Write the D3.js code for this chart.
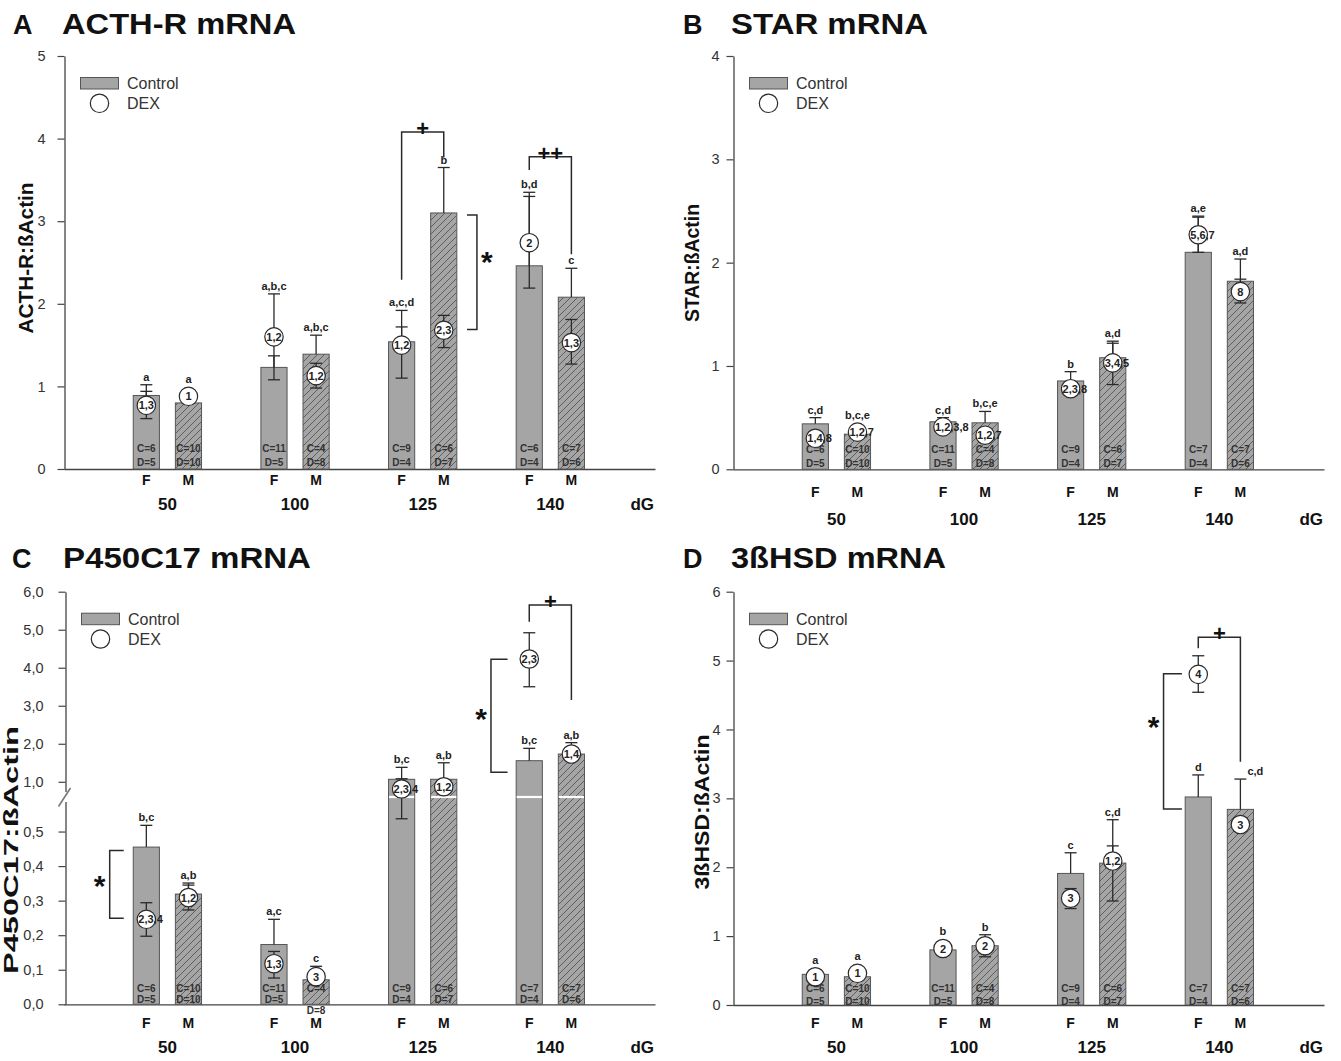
<!DOCTYPE html>
<html><head><meta charset="utf-8">
<script src="https://cdn.jsdelivr.net/npm/d3@7"></script>
<style>body{margin:0;background:#fff} svg{display:block}</style>
</head><body>
<svg id="chart" width="1341" height="1061"></svg>
<script>
// ---------- shared categories ----------
const groups = ["50", "100", "125", "140"];
const sexes = ["F", "M"];
// bar order in every array: F50, M50, F100, M100, F125, M125, F140, M140

// ---------- A: ACTH-R ----------
const acthTicks = [0, 1, 2, 3, 4, 5];
const acthCtrl = [0.89, 0.80, 1.23, 1.39, 1.54, 3.10, 2.46, 2.08];
const acthCtrlTop = [1.02, 0.84, 1.37, 1.62, 1.92, 3.65, 3.35, 2.43];
const acthDex = [0.77, 0.88, 1.60, 1.13, 1.50, 1.68, 2.74, 1.53];
const acthDexLo = [0.61, 0.84, 1.08, 0.98, 1.10, 1.47, 2.19, 1.27];
const acthDexHi = [0.94, 0.92, 2.12, 1.28, 1.72, 1.86, 3.30, 1.81];
const acthLetters = ["a", "a", "a,b,c", "a,b,c", "a,c,d", "b", "b,d", "c"];
const acthDexLabels = ["1,3", "1", "1,2", "1,2", "1,2", "2,3", "2", "1,3"];
const acthNC = [6, 10, 11, 4, 9, 6, 6, 7];
const acthND = [5, 10, 5, 8, 4, 7, 4, 6];
// [group, top, F-leg end, M-leg end, label]
const acthSexBrackets = [[2, 4.08, 2.29, 3.77, "+"], [3, 3.78, 3.62, 2.60, "++"]];
// [spine pos, tick-end pos, top, bottom, label level, label]
const acthDexBrackets = [[2.425, 2.347, 3.075, 1.69, 2.59, "*"]];

// ---------- B: STAR ----------
const starTicks = [0, 1, 2, 3, 4];
const starCtrl = [0.44, 0.34, 0.46, 0.45, 0.855, 1.08, 2.10, 1.82];
const starCtrlTop = [0.50, 0.42, 0.50, 0.56, 0.945, 1.22, 2.45, 2.035];
const starDex = [0.30, 0.36, 0.41, 0.33, 0.78, 1.03, 2.27, 1.72];
const starDexLo = [0.28, 0.33, 0.36, 0.30, 0.76, 0.82, 2.10, 1.61];
const starDexHi = [0.33, 0.40, 0.46, 0.37, 0.80, 1.24, 2.44, 1.84];
const starLetters = ["c,d", "b,c,e", "c,d", "b,c,e", "b", "a,d", "a,e", "a,d"];
const starDexLabels = ["1,4,8", "1,2,7", "1,2,3,8", "1,2,7", "2,3,8", "3,4,5", "5,6,7", "8"];
const starNC = [6, 10, 11, 4, 9, 6, 7, 7];
const starND = [5, 10, 5, 8, 4, 7, 4, 6];

// ---------- C: P450C17 ----------
const p450Ticks = [0, 0.1, 0.2, 0.3, 0.4, 0.5, 1, 2, 3, 4, 5, 6];
const p450Ctrl = [0.455, 0.319, 0.173, 0.071, 1.066, 1.066, 1.555, 1.73];
const p450CtrlTop = [0.518, 0.351, 0.246, 0.11, 1.38, 1.50, 1.88, 2.03];
const p450Dex = [0.246, 0.309, 0.1175, 0.08, 0.81, 0.87, 4.23, 1.73];
const p450DexLo = [0.197, 0.273, 0.076, 0.07, 0.537, 0.766, 3.50, 1.70];
const p450DexHi = [0.294, 0.345, 0.153, 0.09, 1.08, 0.97, 4.92, 1.76];
const p450Letters = ["b,c", "a,b", "a,c", "c", "b,c", "a,b", "b,c", "a,b"];
const p450DexLabels = ["2,3,4", "1,2", "1,3", "3", "2,3,4", "1,2", "2,3", "1,4"];
const p450NC = [6, 10, 11, 4, 9, 6, 7, 7];
const p450ND = [5, 10, 5, 8, 4, 7, 4, 6];
const p450SexBrackets = [[3, 5.65, 5.21, 3.15, "+"]];
const p450DexBrackets = [[-0.452, -0.342, 0.445, 0.249, 0.362, "*"], [2.535, 2.665, 4.22, 1.25, 2.84, "*"]];

// ---------- D: 3ßHSD ----------
const hsdTicks = [0, 1, 2, 3, 4, 5, 6];
const hsdCtrl = [0.445, 0.41, 0.80, 0.86, 1.91, 2.06, 3.02, 2.84];
const hsdCtrlTop = [0.51, 0.47, 0.92, 1.02, 2.21, 2.69, 3.34, 3.28];
const hsdDex = [0.41, 0.46, 0.82, 0.86, 1.55, 2.09, 4.80, 2.62];
const hsdDexLo = [0.38, 0.43, 0.79, 0.70, 1.40, 1.51, 4.54, 2.58];
const hsdDexHi = [0.44, 0.49, 0.85, 0.95, 1.69, 2.31, 5.07, 2.66];
const hsdLetters = ["a", "a", "b", "b", "c", "c,d", "d", "c,d"];
const hsdDexLabels = ["1", "1", "2", "2", "3", "1,2", "4", "3"];
const hsdNC = [6, 10, 11, 4, 9, 6, 7, 7];
const hsdND = [5, 10, 5, 8, 4, 7, 4, 6];
const hsdSexBrackets = [[3, 5.34, 5.18, 3.53, "+"]];
const hsdDexBrackets = [[2.563, 2.707, 4.81, 2.845, 4.14, "*"]];

// ---------- drawing ----------
const FONT = '"Liberation Sans", Arial, Helvetica, sans-serif';
const svg = d3.select("#chart");
const BAR = "#a5a5a5", EDGE = "#555", INK = "#2a2a2a";

const defs = svg.append("defs");
const pat = defs.append("pattern").attr("id", "hatch").attr("patternUnits", "userSpaceOnUse")
  .attr("width", 7).attr("height", 7);
pat.append("rect").attr("width", 7).attr("height", 7).attr("fill", BAR);
pat.append("path").attr("d", "M-1,1L1,-1M0,7L7,0M6,8L8,6").attr("stroke", "#5e5e5e").attr("stroke-width", 1);

const commaFmt = d => d3.format(".1f")(d).replace(".", ",");
const intFmt = d3.format("d");

const panels = [
  { key: "A", title: "ACTH-R mRNA", titleLen: 234, ylab: "ACTH-R:ßActin", ylabLen: 151, ylabX: 33, ylabY: 258,
    letterX: 13, titleY: 34, x0: 64.5, xr: [64, 655], yDom: [0, 5], yRng: [469, 56], ticks: acthTicks, fmt: intFmt, pad: 12,
    fmDy: 16, grpDy: 41, cDy: -17, dDy: -3.5,
    ctrl: acthCtrl, ctrlTop: acthCtrlTop, dex: acthDex, dexLo: acthDexLo, dexHi: acthDexHi,
    letters: acthLetters, labels: acthDexLabels, nC: acthNC, nD: acthND, sexBr: acthSexBrackets, dexBr: acthDexBrackets },
  { key: "B", title: "STAR mRNA", titleLen: 197, ylab: "STAR:ßActin", ylabLen: 118, ylabX: 699, ylabY: 263,
    letterX: 683, titleY: 34, x0: 733.5, xr: [733, 1324], yDom: [0, 4], yRng: [469.3, 56], ticks: starTicks, fmt: intFmt, pad: 7,
    fmDy: 27.5, grpDy: 55.5, cDy: -16, dDy: -2.5,
    ctrl: starCtrl, ctrlTop: starCtrlTop, dex: starDex, dexLo: starDexLo, dexHi: starDexHi,
    letters: starLetters, labels: starDexLabels, nC: starNC, nD: starND, sexBr: [], dexBr: [] },
  { key: "C", title: "P450C17 mRNA", titleLen: 248, ylab: "P450C17:ßActin", ylabLen: 248, ylabX: 18, ylabY: 850,
    letterX: 12, titleY: 568, x0: 65.5, xr: [64, 655], yDom: [0, 0.6, 6], yRng: [1004.3, 797, 591.7], ticks: p450Ticks, fmt: commaFmt, pad: 15,
    fmDy: 24, grpDy: 49, cDy: -12.5, dDy: -1.5, breakAt: 0.6,
    ctrl: p450Ctrl, ctrlTop: p450CtrlTop, dex: p450Dex, dexLo: p450DexLo, dexHi: p450DexHi,
    letters: p450Letters, labels: p450DexLabels, nC: p450NC, nD: p450ND, sexBr: p450SexBrackets, dexBr: p450DexBrackets },
  { key: "D", title: "3ßHSD mRNA", titleLen: 215, ylab: "3ßHSD:ßActin", ylabLen: 155, ylabX: 709, ylabY: 812,
    letterX: 683, titleY: 568, x0: 733.5, xr: [733, 1324], yDom: [0, 6], yRng: [1005, 591.7], ticks: hsdTicks, fmt: intFmt, pad: 6,
    fmDy: 23, grpDy: 48, cDy: -13, dDy: -0.5, letterShift: { 7: 15 },
    ctrl: hsdCtrl, ctrlTop: hsdCtrlTop, dex: hsdDex, dexLo: hsdDexLo, dexHi: hsdDexHi,
    letters: hsdLetters, labels: hsdDexLabels, nC: hsdNC, nD: hsdND, sexBr: hsdSexBrackets, dexBr: hsdDexBrackets }
];

const idx = d3.range(8);
const pos = i => Math.floor(i / 2) + (i % 2 ? 0.165 : -0.165);
const HW = 0.1025;   // half bar width (group units)
const R = 9.2;       // DEX marker radius
const CAP = 6;

function drawPanel(p) {
  const g = svg.append("g").attr("font-family", FONT);
  const x = d3.scaleLinear().domain([-0.81, 3.82]).range(p.xr);
  const y = d3.scaleLinear().domain(p.yDom).range(p.yRng);
  const y0 = y(0), yTop = y(p.yDom[p.yDom.length - 1]);

  // titles
  g.append("text").attr("x", p.letterX).attr("y", p.titleY).attr("font-size", 27).attr("font-weight", "bold")
    .attr("fill", "#111").text(p.key);
  g.append("text").attr("x", p.x0 - 2.5).attr("y", p.titleY).attr("font-size", 29).attr("font-weight", "bold")
    .attr("fill", "#111").attr("textLength", p.titleLen).attr("lengthAdjust", "spacingAndGlyphs").text(p.title);
  g.append("text").attr("transform", `translate(${p.ylabX},${p.ylabY}) rotate(-90)`).attr("text-anchor", "middle")
    .attr("font-size", 20).attr("font-weight", "bold").attr("fill", "#111")
    .attr("textLength", p.ylabLen).attr("lengthAdjust", "spacingAndGlyphs").text(p.ylab);

  // axes
  const ag = g.append("g").attr("transform", `translate(${p.x0},0)`)
    .call(d3.axisLeft(y).tickValues(p.ticks).tickFormat(p.fmt).tickSize(7).tickPadding(p.pad).tickSizeOuter(0));
  ag.attr("font-family", FONT).attr("font-size", 14.5);
  ag.select(".domain").attr("stroke", "#444").attr("stroke-width", 1.3);
  ag.selectAll(".tick line").attr("stroke", "#444").attr("stroke-width", 1.2);
  ag.selectAll(".tick text").attr("fill", "#333");
  const xg = g.append("g").attr("transform", `translate(0,${y0})`)
    .call(d3.axisBottom(x).tickValues([]).tickSizeOuter(0));
  xg.select(".domain").attr("stroke", "#444").attr("stroke-width", 1.3);

  // bars
  g.append("g").selectAll("rect").data(idx).join("rect")
    .attr("x", i => x(pos(i) - HW)).attr("y", i => y(p.ctrl[i]))
    .attr("width", i => x(pos(i) + HW) - x(pos(i) - HW)).attr("height", i => y0 - y(p.ctrl[i]))
    .attr("fill", i => i % 2 ? "url(#hatch)" : BAR).attr("stroke", EDGE).attr("stroke-width", 1);

  // broken axis for panel C
  if (p.breakAt) {
    const yb = y(p.breakAt);
    g.append("g").selectAll("line").data(idx.filter(i => p.ctrl[i] > p.breakAt)).join("line")
      .attr("x1", i => x(pos(i) - HW) + 0.5).attr("x2", i => x(pos(i) + HW) - 0.5)
      .attr("y1", yb).attr("y2", yb).attr("stroke", "#fff").attr("stroke-width", 2.2);
    g.append("rect").attr("x", p.x0 - 3).attr("y", yb - 5).attr("width", 6).attr("height", 10).attr("fill", "#fff");
    g.append("line").attr("x1", p.x0 - 7).attr("y1", yb + 9.5).attr("x2", p.x0 + 5).attr("y2", yb - 9)
      .attr("stroke", "#777").attr("stroke-width", 1.6);
  }

  // n labels
  const nt = g.append("g").attr("font-size", 10).attr("font-weight", "bold").attr("fill", "#333").attr("text-anchor", "middle");
  idx.forEach(i => {
    const cx = x(pos(i));
    const short = (y0 - y(p.ctrl[i])) < 26;
    nt.append("text").attr("x", cx).attr("y", y0 + p.cDy).text("C=" + p.nC[i]);
    nt.append("text").attr("x", cx).attr("y", short ? y0 + 10 : y0 + p.dDy).text("D=" + p.nD[i]);
  });

  // error bars
  const eb = g.append("g").attr("stroke", INK).attr("stroke-width", 1.3).attr("fill", "none");
  idx.forEach(i => {
    const cx = x(pos(i));
    const yt = y(p.ctrlTop[i]);
    eb.append("line").attr("x1", cx).attr("x2", cx).attr("y1", y(p.ctrl[i])).attr("y2", yt);
    eb.append("line").attr("x1", cx - CAP).attr("x2", cx + CAP).attr("y1", yt).attr("y2", yt);
    const lo = y(p.dexLo[i]), hi = y(p.dexHi[i]);
    eb.append("line").attr("x1", cx).attr("x2", cx).attr("y1", lo).attr("y2", hi);
    eb.append("line").attr("x1", cx - CAP).attr("x2", cx + CAP).attr("y1", lo).attr("y2", lo);
    eb.append("line").attr("x1", cx - CAP).attr("x2", cx + CAP).attr("y1", hi).attr("y2", hi);
  });

  // DEX markers
  g.append("g").selectAll("circle").data(idx).join("circle")
    .attr("cx", i => x(pos(i))).attr("cy", i => y(p.dex[i])).attr("r", R)
    .attr("fill", "#fff").attr("stroke", INK).attr("stroke-width", 1.2);
  g.append("g").attr("font-size", 11).attr("font-weight", "bold").attr("fill", "#222")
    .selectAll("text").data(idx).join("text")
    .attr("x", i => p.labels[i].length > 3 ? x(pos(i)) - 8 : x(pos(i)))
    .attr("text-anchor", i => p.labels[i].length > 3 ? "start" : "middle")
    .attr("y", i => y(p.dex[i]) + 4)
    .text(i => p.labels[i]);

  // significance letters: above the control error bar, or above the DEX marker when they overlap
  const letterY = i => {
    let t = y(p.ctrlTop[i]);
    if (p.dexLo[i] <= p.ctrlTop[i]) t = Math.min(t, y(p.dexHi[i]), y(p.dex[i]) - R);
    return t - 4;
  };
  g.append("g").attr("font-size", 11).attr("font-weight", "bold").attr("fill", "#222").attr("text-anchor", "middle")
    .selectAll("text").data(idx).join("text")
    .attr("x", i => x(pos(i)) + ((p.letterShift && p.letterShift[i]) || 0))
    .attr("y", letterY)
    .text(i => p.letters[i]);

  // brackets between sexes
  p.sexBr.forEach(([gi, top, ya, yb, lab]) => {
    const yt = y(top);
    g.append("path").attr("d", `M${x(gi - 0.165)},${y(ya)}V${yt}H${x(gi + 0.165)}V${y(yb)}`)
      .attr("fill", "none").attr("stroke", INK).attr("stroke-width", 1.5);
    g.append("text").attr("x", x(gi)).attr("y", yt + 4).attr("text-anchor", "middle")
      .attr("font-size", 22).attr("font-weight", "bold").attr("fill", "#111").text(lab);
  });
  // brackets control vs DEX
  p.dexBr.forEach(([sp, te, top, bot, lv, lab]) => {
    const xs = x(sp), xt = x(te);
    g.append("path").attr("d", `M${xt},${y(top)}H${xs}V${y(bot)}H${xt}`)
      .attr("fill", "none").attr("stroke", INK).attr("stroke-width", 1.5);
    const side = te > sp ? -1 : 1;
    g.append("text").attr("x", xs + side * 10).attr("y", y(lv) + 17).attr("text-anchor", "middle")
      .attr("font-size", 30).attr("font-weight", "bold").attr("fill", "#111").text(lab);
  });

  // category labels
  const xl = g.append("g").attr("font-weight", "bold").attr("fill", "#111").attr("text-anchor", "middle");
  idx.forEach(i => xl.append("text").attr("x", x(pos(i))).attr("y", y0 + p.fmDy).attr("font-size", 14).text(sexes[i % 2]));
  groups.forEach((gn, gi) => xl.append("text").attr("x", x(gi)).attr("y", y0 + p.grpDy).attr("font-size", 17).text(gn));
  xl.append("text").attr("x", p.xr[1] - 1).attr("y", y0 + p.grpDy).attr("font-size", 17).attr("text-anchor", "end").text("dG");

  // legend
  const lg = g.append("g");
  lg.append("rect").attr("x", p.x0 + 16).attr("y", yTop + 21.5).attr("width", 38).attr("height", 11.5)
    .attr("fill", BAR).attr("stroke", EDGE);
  lg.append("circle").attr("cx", p.x0 + 35).attr("cy", yTop + 47.3).attr("r", R).attr("fill", "#fff").attr("stroke", INK).attr("stroke-width", 1.2);
  lg.append("text").attr("x", p.x0 + 62.5).attr("y", yTop + 33.3).attr("font-size", 16).attr("fill", "#333").text("Control");
  lg.append("text").attr("x", p.x0 + 62.5).attr("y", yTop + 53.3).attr("font-size", 16).attr("fill", "#333").text("DEX");
}

panels.forEach(drawPanel);
</script>
</body></html>
